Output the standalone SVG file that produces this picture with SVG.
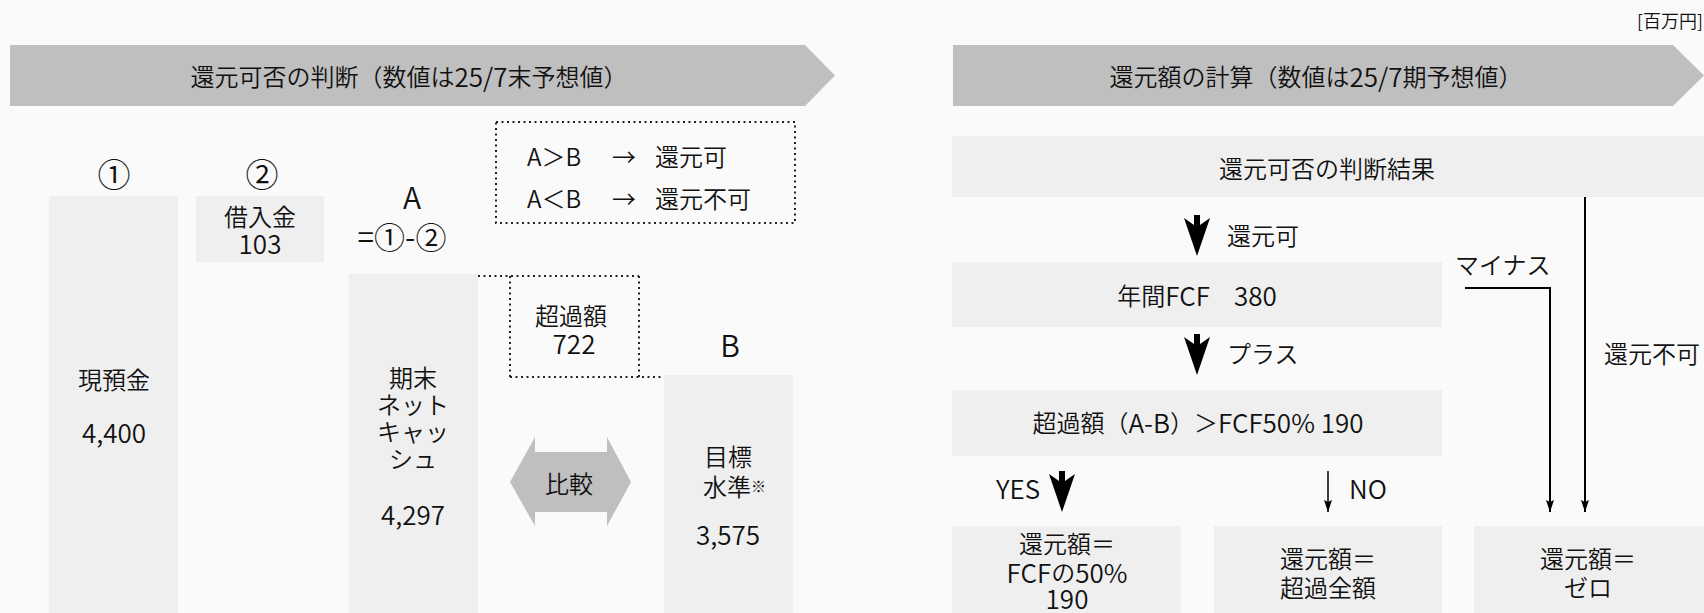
<svg xmlns="http://www.w3.org/2000/svg" width="1704" height="613" viewBox="0 0 1704 613">
<defs>
<style>
text{font-family:"Noto Sans CJK JP","Noto Sans",sans-serif;fill:#111;font-size:24px;font-weight:350;dominant-baseline:central}
.c{text-anchor:middle}
.l{font-size:26px}
.big{font-size:30px}
.circ{font-size:33px}
.box{fill:#efefef}
.band{fill:#bfbfbf}
.dot{fill:none;stroke:#222;stroke-width:2;stroke-dasharray:2 3.5}
.ln{fill:none;stroke:#000;stroke-width:2}
</style>
<marker id="ah" markerUnits="userSpaceOnUse" viewBox="0 0 12 8" markerWidth="12" markerHeight="8" refX="12" refY="4" orient="auto">
<path d="M0,0 L12,4 L0,8 L2,4 Z" fill="#000"/>
</marker>
<path id="fat" d="M-3,0 H3 V10 L13,3 L0,41 L-13,3 L-3,10 Z" fill="#000"/>
</defs>
<rect width="1704" height="613" fill="#fafafa"/>

<g id="unit"><text x="1703" y="20" style="text-anchor:end;font-size:18px">[百万円]</text></g>

<!-- Left section -->
<g id="banner-left">
<polygon class="band" points="10,45 805,45 835,75.5 805,106 10,106"/>
<text class="c" x="409" y="75">還元可否の判断（数値は<tspan class="l">25/7</tspan>末予想値）</text>
</g>
<g id="label-1"><text class="c circ" x="114" y="173">①</text></g>
<g id="label-2"><text class="c circ" x="262" y="173">②</text></g>
<g id="col-cash">
<rect class="box" x="49" y="196" width="129" height="417"/>
<text class="c" x="114" y="378">現預金</text>
<text class="c l" x="114" y="431">4,400</text>
</g>
<g id="col-debt">
<rect class="box" x="196" y="196" width="128" height="66"/>
<text class="c" x="260" y="215">借入金</text>
<text class="c l" x="260" y="242">103</text>
</g>
<g id="label-A">
<text class="c big" x="412" y="196">A</text>
<text class="c big" x="402" y="235">=<tspan style="font-size:31px">①</tspan>-<tspan style="font-size:31px">②</tspan></text>
</g>
<g id="rule-box">
<rect class="dot" x="496" y="122" width="299" height="101"/>
<text x="527" y="155">A＞B</text>
<text x="612" y="155">→</text>
<text x="655" y="155">還元可</text>
<text x="527" y="197">A＜B</text>
<text x="612" y="197">→</text>
<text x="655" y="197">還元不可</text>
</g>
<g id="col-netcash">
<rect class="box" x="349" y="274" width="129" height="339"/>
<text class="c" x="413" y="376">期末</text>
<text class="c" x="413" y="403">ネット</text>
<text class="c" x="413" y="430">キャッ</text>
<text class="c" x="413" y="457">シュ</text>
<text class="c l" x="413" y="513">4,297</text>
</g>
<g id="excess">
<path class="dot" d="M478,276 H639 M510,276 V377 M639,276 V377 M510,377 H663"/>
<text class="c" x="571" y="314">超過額</text>
<text class="c l" x="574" y="342">722</text>
</g>
<g id="label-B"><text class="c big" x="730" y="344">B</text></g>
<g id="col-target">
<rect class="box" x="664" y="375" width="129" height="238"/>
<text class="c" x="728" y="455">目標</text>
<text x="703" y="485">水準<tspan style="font-size:15px">※</tspan></text>
<text class="c l" x="728" y="533">3,575</text>
</g>
<g id="compare">
<polygon class="band" points="510,482 535,437 535,452 607,452 607,437 631,482 607,526 607,512 535,512 535,526"/>
<text class="c" x="569" y="482">比較</text>
</g>

<!-- Right section -->
<g id="banner-right">
<polygon class="band" points="953,45 1673,45 1704,75.5 1673,106 953,106"/>
<text class="c" x="1316" y="75">還元額の計算（数値は<tspan class="l">25/7</tspan>期予想値）</text>
</g>
<g id="result">
<rect class="box" x="952" y="136" width="752" height="61"/>
<text class="c" x="1327" y="167">還元可否の判断結果</text>
</g>
<g id="fcf">
<rect class="box" x="952" y="262" width="490" height="65"/>
<text class="c" x="1197" y="294">年間<tspan class="l">FCF</tspan>　<tspan class="l">380</tspan></text>
</g>
<g id="compare-fcf">
<rect class="box" x="952" y="390" width="490" height="66"/>
<text class="c" x="1198" y="421">超過額（<tspan class="l">A-B</tspan>）＞<tspan class="l">FCF50% 190</tspan></text>
</g>
<g id="out-half">
<rect class="box" x="952" y="526" width="229" height="87"/>
<text class="c" x="1067" y="542">還元額＝</text>
<text class="c" x="1067" y="571"><tspan class="l">FCF</tspan>の<tspan class="l">50%</tspan></text>
<text class="c l" x="1067" y="597">190</text>
</g>
<g id="out-all">
<rect class="box" x="1214" y="526" width="228" height="87"/>
<text class="c" x="1328" y="557">還元額＝</text>
<text class="c" x="1328" y="586">超過全額</text>
</g>
<g id="out-zero">
<rect class="box" x="1474" y="526" width="230" height="87"/>
<text class="c" x="1588" y="557">還元額＝</text>
<text class="c" x="1588" y="586">ゼロ</text>
</g>

<g id="connectors">
<use href="#fat" x="1197" y="215"/>
<use href="#fat" x="1197" y="334"/>
<use href="#fat" x="1062" y="471"/>
<line class="ln" x1="1328" y1="471" x2="1328" y2="512" marker-end="url(#ah)" style="stroke-width:1.5"/>
<polyline class="ln" points="1465,288 1550,288 1550,512" marker-end="url(#ah)"/>
<line class="ln" x1="1585" y1="197" x2="1585" y2="512" marker-end="url(#ah)"/>
<text x="1227" y="234">還元可</text>
<text x="1227" y="352">プラス</text>
<text class="l" x="996" y="487">YES</text>
<text class="l" x="1349" y="487">NO</text>
<text x="1455" y="263">マイナス</text>
<text x="1604" y="352">還元不可</text>
</g>
</svg>
